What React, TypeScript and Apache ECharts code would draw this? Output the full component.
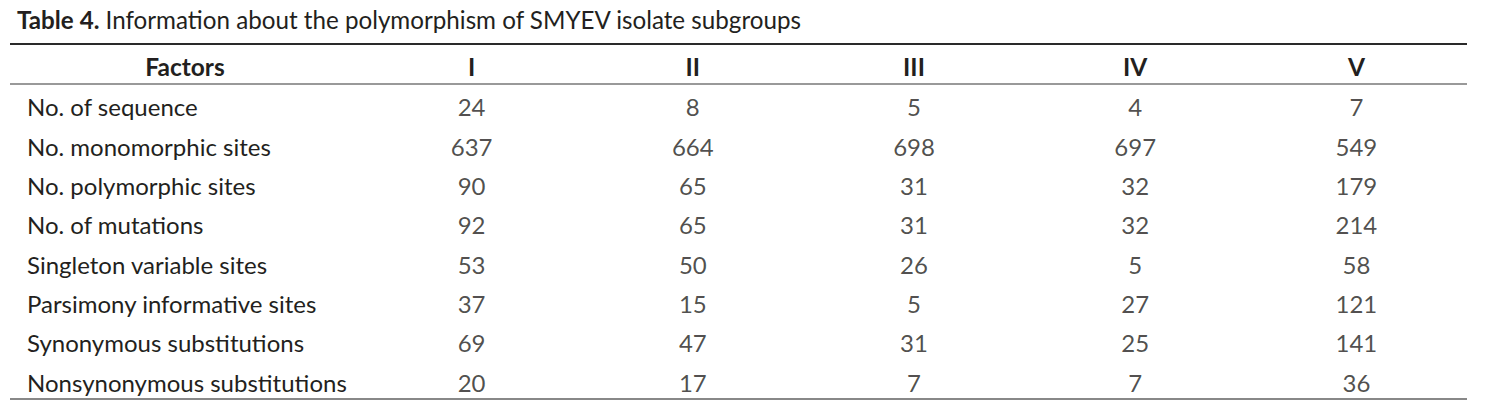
import React, { useEffect, useRef } from "react";
import * as echarts from "echarts";

const titleBold = "Table 4.";
const titleRest = " Information about the polymorphism of SMYEV isolate subgroups";
const headerFirst = "Factors";
const columns = ["I", "II", "III", "IV", "V"];
const rows = [
  "No. of sequence",
  "No. monomorphic sites",
  "No. polymorphic sites",
  "No. of mutations",
  "Singleton variable sites",
  "Parsimony informative sites",
  "Synonymous substitutions",
  "Nonsynonymous substitutions",
];
const colI = [24, 637, 90, 92, 53, 37, 69, 20];
const colII = [8, 664, 65, 65, 50, 15, 47, 17];
const colIII = [5, 698, 31, 31, 26, 5, 31, 7];
const colIV = [4, 697, 32, 32, 5, 27, 25, 7];
const colV = [7, 549, 179, 214, 58, 121, 141, 36];
const columnValues = [colI, colII, colIII, colIV, colV];

const FONT = "Lato";
const TEXT = "#231f20";
const BODY = 24;
const TITLE = 24.2;
const HEAD = 24.5;

export default function App() {
  const ref = useRef<HTMLDivElement>(null);
  useEffect(() => {
    if (!ref.current) return;
    const chart = echarts.init(ref.current, null, { renderer: "svg" });
    const gridLeft = 361;
    const gridRight = 19;
    chart.setOption({
      animation: false,
      backgroundColor: "#ffffff",
      title: {
        text: `{b|${titleBold}}{r|${titleRest}}`,
        left: 12,
        top: 2,
        textStyle: {
          rich: {
            b: { fontFamily: FONT, fontWeight: "bold", fontSize: TITLE, color: TEXT },
            r: { fontFamily: FONT, fontWeight: "normal", fontSize: TITLE, color: TEXT },
          },
        },
      },
      grid: { left: gridLeft, right: gridRight, top: 87, bottom: 0 },
      xAxis: {
        type: "category",
        position: "top",
        data: columns,
        axisLine: { show: false },
        axisTick: { show: false },
        axisLabel: {
          fontFamily: FONT,
          fontWeight: "bold",
          fontSize: HEAD,
          color: TEXT,
          margin: 21,
          verticalAlign: "middle",
        },
      },
      yAxis: {
        type: "category",
        inverse: true,
        data: rows,
        axisLine: { show: false },
        axisTick: { show: false },
        splitLine: { show: false },
        axisLabel: {
          fontFamily: FONT,
          fontSize: BODY,
          color: TEXT,
          align: "left",
          margin: gridLeft - 27,
        },
      },
      graphic: [
        {
          type: "text",
          x: 185,
          y: 66,
          style: {
            text: headerFirst,
            fontFamily: FONT,
            fontWeight: "bold",
            fontSize: HEAD,
            fill: TEXT,
            align: "center",
            verticalAlign: "middle",
          },
        },
        { type: "line", shape: { x1: 10, y1: 44, x2: 1467, y2: 44 }, style: { stroke: "#2a2a2a", lineWidth: 2 } },
        { type: "line", shape: { x1: 10, y1: 84, x2: 1467, y2: 84 }, style: { stroke: "#999999", lineWidth: 2 } },
        { type: "line", shape: { x1: 10, y1: 399, x2: 1467, y2: 399 }, style: { stroke: "#888888", lineWidth: 2 } },
      ],
      series: columns.map((c, ci) => ({
        type: "scatter",
        name: c,
        symbolSize: 0,
        data: columnValues[ci].map((v, ri) => [c, rows[ri], v]),
        label: {
          show: true,
          position: "inside",
          formatter: (p: any) => String(p.value[2]),
          fontFamily: FONT,
          fontSize: BODY,
          color: TEXT,
        },
      })),
    });
    return () => chart.dispose();
  }, []);
  return (
    <div
      ref={ref}
      style={{ position: "fixed", left: 0, top: 0, width: 1486, height: 402 }}
    />
  );
}
